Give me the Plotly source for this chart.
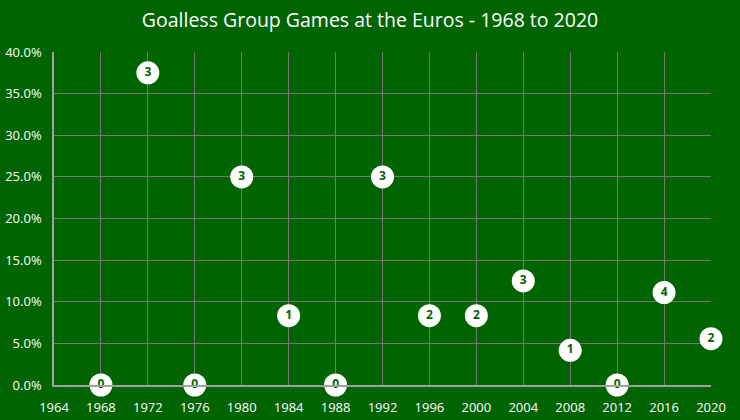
import plotly.graph_objects as go

years = [1968, 1972, 1976, 1980, 1984, 1988, 1992, 1996, 2000, 2004, 2008, 2012, 2016, 2020]
goalless_pct = [0.0, 37.5, 0.0, 25.0, 8.33, 0.0, 25.0, 8.33, 8.33, 12.5, 4.17, 0.0, 11.1, 5.56]
goalless_games = [0, 3, 0, 3, 1, 0, 3, 2, 2, 3, 1, 0, 4, 2]

bg = "#006400"
grid = "#777777"

fig = go.Figure(go.Scatter(
    x=years,
    y=goalless_pct,
    mode="markers+text",
    text=[str(n) for n in goalless_games],
    textposition="middle center",
    textfont=dict(color=bg, size=12, family="Open Sans", weight="bold"),
    marker=dict(size=23, color="white", line=dict(width=0)),
    cliponaxis=False,
    hovertemplate="%{x}: %{y:.1f}%<extra></extra>",
))

fig.update_layout(
    width=740,
    height=420,
    paper_bgcolor=bg,
    plot_bgcolor=bg,
    margin=dict(l=54, r=29, t=52, b=35),
    title=dict(text="Goalless Group Games at the Euros - 1968 to 2020",
               x=0.5, xanchor="center", y=0.952, yanchor="middle",
               font=dict(color="white", size=19.5, family="Open Sans")),
    font=dict(color="white", family="Open Sans", size=13),
    showlegend=False,
)

fig.update_xaxes(
    range=[1964, 2020], dtick=4, tick0=1964,
    showgrid=True, gridcolor=grid, gridwidth=1,
    showline=True, linecolor="#a0a0a0", linewidth=1.5,
    zeroline=False, ticks="", ticklabelstandoff=10, automargin=False,
    tickfont=dict(color="white", size=13),
)
fig.update_yaxes(
    range=[0, 40], dtick=5, ticksuffix="%", tickformat=".1f",
    showgrid=True, gridcolor=grid, gridwidth=1,
    showline=True, linecolor="#a0a0a0", linewidth=1.5,
    zeroline=False, ticks="", ticklabelstandoff=8, automargin=False,
    tickfont=dict(color="white", size=13),
)

fig.write_html("out.html", config={"displayModeBar": False},
               post_script="document.body.style.margin='0';")
